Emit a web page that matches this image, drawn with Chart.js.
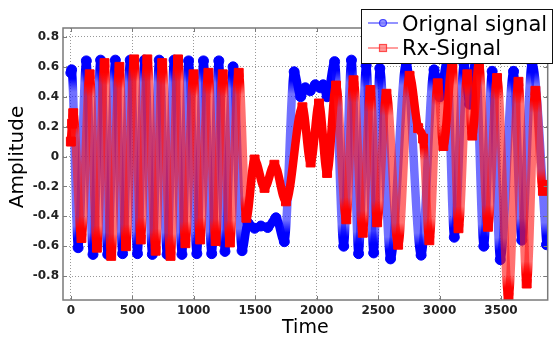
<!DOCTYPE html>
<html><head><meta charset="utf-8">
<script src="https://cdn.jsdelivr.net/npm/chart.js@4.4.1/dist/chart.umd.min.js"></script>
<style>html,body{margin:0;padding:0;background:#fff;overflow:hidden}#wrap{width:555px;height:338px}canvas{display:block}</style>
</head><body>
<div id="wrap"><canvas id="c" width="555" height="338"></canvas></div>
<script>
// ---- data (extrema of each signal) ----
const blueTime = [0,6,59,126,180,242,300,362,421,483,542,600,663,719,783,840,904,958,1025,1079,1146,1204,1254,1320,1393,1441,1495,1546,1602,1669,1737,1817,1870,1908,1948,1989,2029,2053,2085,2146,2220,2283,2341,2403,2464,2514,2601,2729,2850,2955,3003,3060,3120,3199,3245,3293,3360,3428,3494,3602,3669,3752,3870];
const blueAmp  = [0.56,0.58,-0.61,0.64,-0.655,0.645,-0.655,0.645,-0.65,0.645,-0.65,0.645,-0.655,0.645,-0.655,0.645,-0.655,0.64,-0.65,0.64,-0.65,0.64,-0.635,0.60,-0.63,-0.445,-0.48,-0.465,-0.475,-0.41,-0.57,0.567,0.40,0.46,0.44,0.48,0.46,0.48,0.40,0.635,-0.60,0.645,-0.65,0.61,-0.645,0.59,-0.685,0.625,-0.66,0.58,0.40,0.63,-0.54,0.62,0.35,0.645,-0.60,0.57,-0.69,0.57,-0.56,0.625,-0.59];
const redTime  = [0,10,19,86,153,212,274,328,395,448,515,569,622,690,743,811,872,932,998,1052,1119,1178,1236,1294,1366,1428,1495,1576,1656,1750,1884,1951,2019,2085,2158,2241,2300,2375,2437,2492,2568,2663,2756,2826,2866,2917,2985,3031,3104,3154,3226,3266,3320,3394,3468,3561,3642,3709,3780,3841,3870];
const redAmp   = [0.10,0.22,0.29,-0.545,0.55,-0.61,0.625,-0.665,0.60,-0.60,0.65,-0.555,0.65,-0.63,0.625,-0.665,0.65,-0.58,0.55,-0.555,0.56,-0.565,0.55,-0.575,0.56,-0.41,-0.02,-0.21,-0.055,-0.30,0.33,-0.04,0.355,-0.11,0.475,-0.42,0.51,-0.51,0.445,-0.44,0.42,-0.59,0.54,0.19,0.12,-0.56,0.49,0.07,0.625,-0.48,0.55,0.14,0.62,-0.47,0.525,-0.94,0.50,-0.85,0.44,-0.23,-0.19];
const xTickValues = [0,500,1000,1500,2000,2500,3000,3500];
const xTickLabels = ['0','500','1000','1500','2000','2500','3000','3500'];
const yTickValues = [-0.8,-0.6,-0.4,-0.2,0,0.2,0.4,0.6,0.8];
const yTickLabels = ['-0.8','-0.6','-0.4','-0.2','0','0.2','0.4','0.6','0.8'];
const seriesNames = ['Orignal signal','Rx-Signal'];
const xTitle = 'Time';
const yTitle = 'Amplitude';

const canvas = document.getElementById('c');
const c2d = canvas.getContext('2d');

function segColor(solid, light) {
  return ctx => {
    const p0 = ctx.p0, p1 = ctx.p1;
    const dx = Math.max(0.01, Math.abs(p1.x - p0.x));
    const dy = p1.y - p0.y, ady = Math.abs(dy);
    if (ady / dx < 11 || ady < 30) return solid;
    const g = c2d.createLinearGradient(0, p0.y, 0, p1.y);
    const a = Math.min(0.4, 9 / ady), b = Math.min(0.45, 22 / ady);
    g.addColorStop(0, solid); g.addColorStop(a, solid); g.addColorStop(b, light);
    g.addColorStop(1 - b, light); g.addColorStop(1 - a, solid); g.addColorStop(1, solid);
    return g;
  };
}

const decor = {
  id: 'decor',
  afterDraw(chart) {
    const ctx = chart.ctx, a = chart.chartArea;
    const xs = chart.scales.x, ys = chart.scales.y;
    ctx.save();
    ctx.strokeStyle = '#7a7a7a';
    ctx.lineWidth = 1.5;
    ctx.strokeRect(a.left, a.top, a.right - a.left, a.bottom - a.top);
    ctx.lineWidth = 1;
    ctx.beginPath();
    xTickValues.forEach(v => {
      const px = Math.round(xs.getPixelForValue(v)) + 0.5;
      ctx.moveTo(px, a.bottom); ctx.lineTo(px, a.bottom - 4);
      ctx.moveTo(px, a.top); ctx.lineTo(px, a.top + 4);
    });
    yTickValues.forEach(v => {
      const py = Math.round(ys.getPixelForValue(v)) + 0.5;
      ctx.moveTo(a.left, py); ctx.lineTo(a.left + 4, py);
      ctx.moveTo(a.right, py); ctx.lineTo(a.right - 4, py);
    });
    ctx.stroke();
    ctx.fillStyle = '#000';
    ctx.font = '20px "DejaVu Sans"';
    ctx.textAlign = 'center';
    ctx.textBaseline = 'middle';
    ctx.save();
    ctx.translate(17.5, 157);
    ctx.rotate(-Math.PI / 2);
    ctx.fillText(yTitle, 0, 0);
    ctx.restore();
    ctx.font = '19px "DejaVu Sans"';
    ctx.textBaseline = 'alphabetic';
    ctx.fillText(xTitle, (a.left + a.right) / 2, 333);
    ctx.fillStyle = '#fff';
    ctx.fillRect(361, 9, 192, 54);
    ctx.strokeStyle = '#111';
    ctx.lineWidth = 1;
    ctx.strokeRect(361.5, 9.5, 191, 54);
    const ly = [23, 48];
    ctx.lineWidth = 2;
    ctx.strokeStyle = 'rgba(40,40,255,0.5)';
    ctx.beginPath(); ctx.moveTo(368, ly[0]); ctx.lineTo(398, ly[0]); ctx.stroke();
    ctx.fillStyle = 'rgba(120,120,255,0.8)';
    ctx.strokeStyle = 'rgba(30,30,255,0.8)';
    ctx.lineWidth = 1.2;
    ctx.beginPath(); ctx.arc(383, ly[0], 3.5, 0, Math.PI * 2); ctx.fill(); ctx.stroke();
    ctx.lineWidth = 2;
    ctx.strokeStyle = 'rgba(255,60,60,0.5)';
    ctx.beginPath(); ctx.moveTo(368, ly[1]); ctx.lineTo(398, ly[1]); ctx.stroke();
    ctx.fillStyle = 'rgba(255,130,130,0.8)';
    ctx.strokeStyle = 'rgba(255,40,40,0.8)';
    ctx.lineWidth = 1.2;
    ctx.fillRect(379.5, ly[1] - 3.5, 7, 7); ctx.strokeRect(379.5, ly[1] - 3.5, 7, 7);
    ctx.fillStyle = '#000';
    ctx.font = '21px "DejaVu Sans"';
    ctx.textAlign = 'left';
    ctx.fillText(seriesNames[0], 402, 31);
    ctx.fillText(seriesNames[1], 402, 55);
    ctx.restore();
  }
};

new Chart(canvas, {
  type: 'line',
  data: {
    datasets: [
      {
        label: seriesNames[1],
        data: redTime.map((t, i) => ({x: t, y: redAmp[i]})),
        order: 0,
        borderColor: '#ff0000',
        borderWidth: 8.5,
        cubicInterpolationMode: 'monotone',
        pointStyle: 'rect',
        pointRadius: 6.3,
        pointBackgroundColor: '#ff0000',
        pointBorderColor: '#ff0000',
        pointBorderWidth: 1,
        segment: { borderColor: segColor('#ff0000', 'rgba(255,25,25,0.62)') }
      },
      {
        label: seriesNames[0],
        data: blueTime.map((t, i) => ({x: t, y: blueAmp[i]})),
        order: 1,
        borderColor: '#0000ff',
        borderWidth: 8.5,
        cubicInterpolationMode: 'monotone',
        pointStyle: 'circle',
        pointRadius: 5,
        pointBackgroundColor: '#0000ff',
        pointBorderColor: '#0000ff',
        pointBorderWidth: 1,
        segment: { borderColor: segColor('#0000ff', 'rgba(25,25,255,0.62)') }
      }
    ]
  },
  options: {
    responsive: false,
    animation: false,
    events: [],
    layout: { padding: { left: 0, right: 2, top: 28, bottom: 0 } },
    plugins: { legend: { display: false }, tooltip: { enabled: false } },
    scales: {
      x: {
        type: 'linear',
        min: -64, max: 3880,
        afterBuildTicks: s => { s.ticks = xTickValues.map(v => ({value: v})); },
        afterFit: s => { s.height = 38; },
        grid: { color: 'rgba(0,0,0,0.4)', lineWidth: 1, drawTicks: false },
        border: { display: false, dash: [1, 2] },
        ticks: {
          padding: 4,
          maxRotation: 0,
          autoSkip: false,
          color: '#222',
          font: { family: 'DejaVu Sans', size: 12, weight: 'bold' },
          callback: (v) => { const i = xTickValues.indexOf(v); return i >= 0 ? xTickLabels[i] : ''; }
        }
      },
      y: {
        type: 'linear',
        min: -0.96, max: 0.86,
        afterBuildTicks: s => { s.ticks = yTickValues.map(v => ({value: v})); },
        afterFit: s => { s.width = 63; },
        grid: { color: 'rgba(0,0,0,0.4)', lineWidth: 1, drawTicks: false },
        border: { display: false, dash: [1, 2] },
        ticks: {
          padding: 4,
          autoSkip: false,
          color: '#222',
          font: { family: 'DejaVu Sans', size: 12, weight: 'bold' },
          callback: (v) => { const i = yTickValues.findIndex(t => Math.abs(t - v) < 1e-9); return i >= 0 ? yTickLabels[i] : ''; }
        }
      }
    }
  },
  plugins: [decor]
});
</script>
</body></html>
